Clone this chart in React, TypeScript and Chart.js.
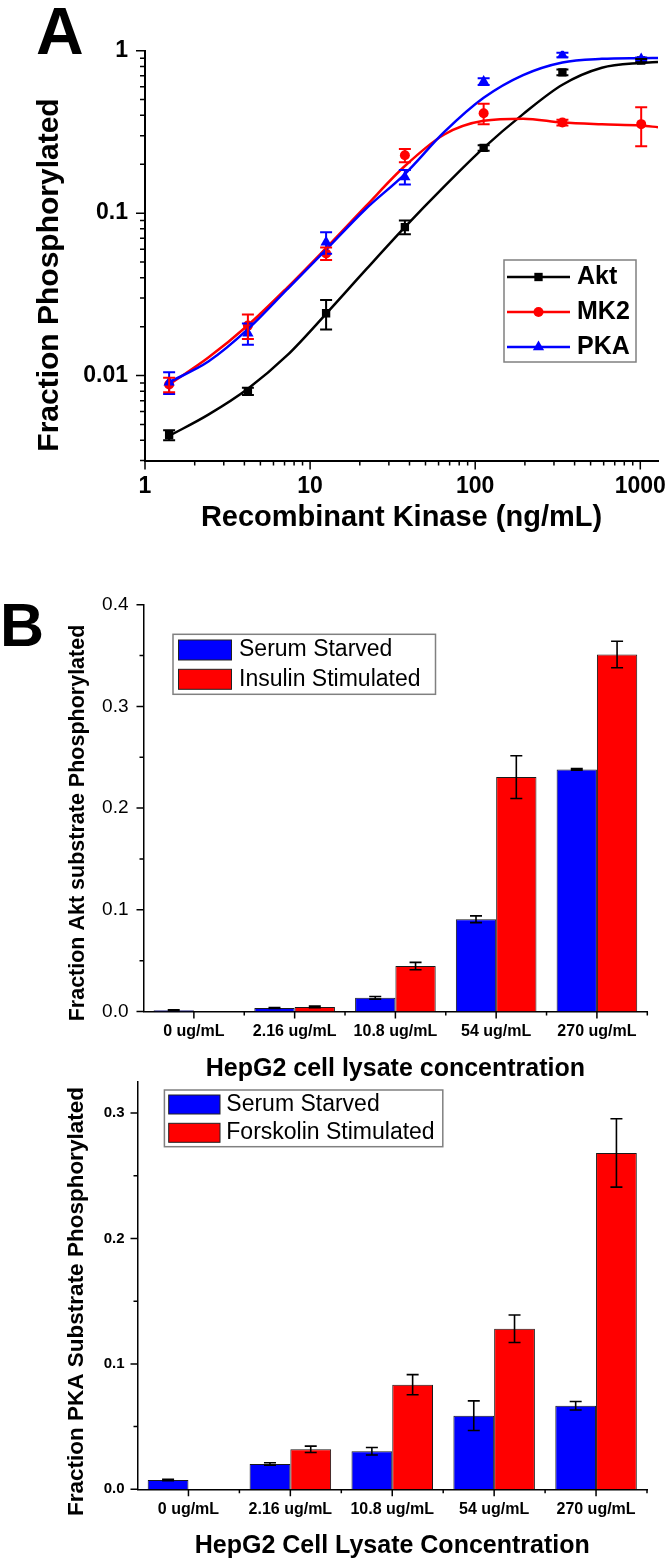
import React, { useEffect, useRef } from 'react';
import { Chart, registerables } from 'chart.js';

Chart.register(...registerables);

const FONT = '"Liberation Sans", Arial, Helvetica, sans-serif';
const BLUE = '#0000ff';
const RED = '#ff0000';
const BLACK = '#000000';

// ---------- Panel A data (log-log) ----------
const doses = [1.4, 4.2, 12.5, 37.5, 112.5, 337.5, 1012.5];
const aktPts = [0.0043, 0.008, 0.0242, 0.082, 0.252, 0.736, 0.87];
const aktErr = [0.0003, 0.0004, 0.005, 0.008, 0.01, 0.03, 0.02];
const mk2Pts = [0.0088, 0.0203, 0.0564, 0.227, 0.412, 0.361, 0.353];
const mk2Err = [0.0009, 0.0035, 0.005, 0.021, 0.06, 0.015, 0.095];
const pkaPts = [0.0091, 0.0182, 0.0662, 0.167, 0.646, 0.94, 0.889];
const pkaErr = [0.0014, 0.0027, 0.01, 0.017, 0.03, 0.03, 0.02];

// fitted curves at these concentrations
const fitX = [1.4, 2.42, 4.2, 7.25, 12.5, 21.7, 37.5, 65, 112.5, 195, 337.5, 585, 1012.5, 1280];
const aktFitY = [0.00425, 0.00575, 0.0083, 0.0133, 0.024, 0.0447, 0.082, 0.146, 0.252, 0.407, 0.617, 0.785, 0.841, 0.851];
const mk2FitY = [0.0088, 0.0129, 0.0204, 0.0347, 0.061, 0.11, 0.195, 0.305, 0.37, 0.381, 0.361, 0.352, 0.346, 0.338];
const pkaFitY = [0.0091, 0.0122, 0.0193, 0.0339, 0.0596, 0.106, 0.174, 0.316, 0.513, 0.708, 0.847, 0.891, 0.9, 0.902];

// ---------- Panel B data (bars) ----------
const lysateLabels = ['0 ug/mL', '2.16 ug/mL', '10.8 ug/mL', '54 ug/mL', '270 ug/mL'];
const aktStarved = [0.0013, 0.0035, 0.0135, 0.0907, 0.238];
const aktStarvedErr = [0.0004, 0.0005, 0.0013, 0.0033, 0.0008];
const aktInsulin = [0, 0.0045, 0.0447, 0.2305, 0.351];
const aktInsulinErr = [0, 0.0008, 0.0036, 0.021, 0.013];
const pkaStarved = [0.0074, 0.0202, 0.0303, 0.0587, 0.0666];
const pkaStarvedErr = [0.0005, 0.001, 0.003, 0.0118, 0.0034];
const pkaForskolin = [0, 0.0319, 0.0834, 0.128, 0.2682];
const pkaForskolinErr = [0, 0.0025, 0.008, 0.011, 0.0273];

const toPts = (xs: number[], ys: number[]) => xs.map((x, i) => ({ x, y: ys[i] }));
const isDecade = (v: number) => {
  const l = Math.log10(v);
  return Math.abs(l - Math.round(l)) < 1e-9;
};

function drawMarker(ctx: any, style: string, x: number, y: number, r: number, color: string) {
  ctx.save();
  ctx.fillStyle = color;
  ctx.beginPath();
  if (style === 'rect') {
    const s = r * Math.SQRT1_2;
    ctx.rect(x - s, y - s, 2 * s, 2 * s);
  } else if (style === 'circle') {
    ctx.arc(x, y, r, 0, Math.PI * 2);
  } else {
    for (let k = 0; k < 3; k++) {
      const a = (k * 2 * Math.PI) / 3;
      const px = x + Math.sin(a) * r;
      const py = y - Math.cos(a) * r;
      if (k === 0) ctx.moveTo(px, py);
      else ctx.lineTo(px, py);
    }
    ctx.closePath();
  }
  ctx.fill();
  ctx.restore();
}

function makeExtras(cfg: any) {
  return {
    id: 'extras',
    afterDatasetsDraw(chart: any) {
      const ctx = chart.ctx;
      const ys = chart.scales.y;
      const eb = cfg.errors;
      if (!eb) return;
      ctx.save();
      ctx.lineWidth = eb.width;
      Object.keys(eb.data).forEach((key) => {
        const di = Number(key);
        const errs = eb.data[key];
        const meta = chart.getDatasetMeta(di);
        const ds = chart.data.datasets[di];
        ctx.strokeStyle = eb.colors[key] || '#000';
        meta.data.forEach((el: any, j: number) => {
          const e = errs[j];
          if (!e) return;
          const raw = ds.data[j];
          const v = typeof raw === 'number' ? raw : raw.y;
          const lo = Math.max(v - e, ys.min > 0 ? ys.min * 0.5 : -1);
          const yt = ys.getPixelForValue(v + e);
          const yb = ys.getPixelForValue(lo);
          const x = el.x;
          ctx.beginPath();
          ctx.moveTo(x, yt);
          ctx.lineTo(x, yb);
          ctx.moveTo(x - eb.cap, yt);
          ctx.lineTo(x + eb.cap, yt);
          ctx.moveTo(x - eb.cap, yb);
          ctx.lineTo(x + eb.cap, yb);
          ctx.stroke();
        });
      });
      ctx.restore();
    },
    afterDraw(chart: any) {
      const ctx = chart.ctx;
      const area = chart.chartArea;
      const xs = chart.scales.x;
      const ys = chart.scales.y;
      // ---- tick marks ----
      ctx.save();
      ctx.strokeStyle = '#000';
      ctx.lineWidth = cfg.tickWidth;
      ctx.beginPath();
      const t = cfg.ticks;
      if (t.xKind === 'log') {
        xs.ticks.forEach((tk: any) => {
          const v = tk.value;
          const ex = Math.floor(Math.log10(v) + 1e-9);
          const s = v / Math.pow(10, ex);
          const r = Math.round(s);
          if (Math.abs(s - r) > 1e-6) return;
          const len = r === 1 ? t.major : t.minor;
          const px = xs.getPixelForValue(v);
          ctx.moveTo(px, area.bottom);
          ctx.lineTo(px, area.bottom + len);
        });
      } else {
        const n = chart.data.labels.length;
        const centers: number[] = [];
        for (let i = 0; i < n; i++) centers.push(xs.getPixelForValue(i));
        centers.forEach((px) => {
          ctx.moveTo(px, area.bottom);
          ctx.lineTo(px, area.bottom + t.major);
        });
        for (let i = 0; i < n - 1; i++) {
          const px = (centers[i] + centers[i + 1]) / 2;
          ctx.moveTo(px, area.bottom);
          ctx.lineTo(px, area.bottom + t.minor);
        }
        ctx.moveTo(area.right, area.bottom);
        ctx.lineTo(area.right, area.bottom + t.minor);
      }
      if (t.yKind === 'log') {
        ys.ticks.forEach((tk: any) => {
          const v = tk.value;
          const ex = Math.floor(Math.log10(v) + 1e-9);
          const s = v / Math.pow(10, ex);
          const r = Math.round(s);
          if (Math.abs(s - r) > 1e-6) return;
          const len = r === 1 ? t.major : t.minor;
          const py = ys.getPixelForValue(v);
          ctx.moveTo(area.left, py);
          ctx.lineTo(area.left - len, py);
        });
      } else {
        ys.ticks.forEach((tk: any) => {
          const v = tk.value;
          const q = v / t.yMinorStep;
          if (Math.abs(q - Math.round(q)) > 1e-6) return;
          const m = v / t.yMajorStep;
          const len = Math.abs(m - Math.round(m)) < 1e-6 ? t.major : t.minor;
          const py = ys.getPixelForValue(v);
          ctx.moveTo(area.left, py);
          ctx.lineTo(area.left - len, py);
        });
      }
      ctx.stroke();
      ctx.restore();

      // ---- legend ----
      const lg = cfg.legend;
      if (lg) {
        ctx.save();
        ctx.strokeStyle = '#808080';
        ctx.lineWidth = 1.5;
        ctx.strokeRect(lg.box[0], lg.box[1], lg.box[2], lg.box[3]);
        ctx.font = lg.font;
        ctx.fillStyle = '#000';
        ctx.textAlign = 'left';
        ctx.textBaseline = 'middle';
        lg.items.forEach((it: any) => {
          if (lg.kind === 'line') {
            ctx.strokeStyle = it.color;
            ctx.lineWidth = 2.5;
            ctx.beginPath();
            ctx.moveTo(lg.lineX[0], it.y);
            ctx.lineTo(lg.lineX[1], it.y);
            ctx.stroke();
            drawMarker(ctx, it.marker, (lg.lineX[0] + lg.lineX[1]) / 2, it.y, it.r, it.color);
          } else {
            ctx.fillStyle = it.color;
            ctx.fillRect(lg.swatch[0], it.y - lg.swatch[2] / 2, lg.swatch[1], lg.swatch[2]);
            ctx.strokeStyle = '#222';
            ctx.lineWidth = 1;
            ctx.strokeRect(lg.swatch[0], it.y - lg.swatch[2] / 2, lg.swatch[1], lg.swatch[2]);
          }
          ctx.fillStyle = '#000';
          ctx.fillText(it.text, lg.textX, it.y);
        });
        ctx.restore();
      }

      // ---- y title ----
      const yt = cfg.yTitle;
      if (yt) {
        ctx.save();
        ctx.translate(yt.x, yt.y);
        ctx.rotate(-Math.PI / 2);
        ctx.font = yt.font;
        ctx.fillStyle = '#000';
        ctx.textAlign = 'center';
        ctx.textBaseline = 'middle';
        ctx.fillText(yt.text, 0, 0);
        ctx.restore();
      }
    },
  };
}

function configA() {
  const extras = makeExtras({
    tickWidth: 1.5,
    ticks: { xKind: 'log', yKind: 'log', major: 9, minor: 5 },
    errors: {
      width: 2,
      cap: 6,
      data: { 0: pkaErr, 2: mk2Err, 4: aktErr },
      colors: { 0: BLUE, 2: RED, 4: BLACK },
    },
    legend: {
      kind: 'line',
      box: [504, 260, 132, 102],
      lineX: [507, 570],
      textX: 577,
      font: `bold 25px ${FONT}`,
      items: [
        { text: 'Akt', color: BLACK, marker: 'rect', r: 5.9, y: 277 },
        { text: 'MK2', color: RED, marker: 'circle', r: 5, y: 312 },
        { text: 'PKA', color: BLUE, marker: 'triangle', r: 6.5, y: 347 },
      ],
    },
    yTitle: { text: 'Fraction Phosphorylated', x: 50, y: 275, font: `bold 30px ${FONT}` },
  });
  const fitLine = (ys: number[], color: string, order: number) => ({
    label: 'fit',
    data: toPts(fitX, ys),
    showLine: true,
    pointRadius: 0,
    borderColor: color,
    borderWidth: 2.5,
    cubicInterpolationMode: 'monotone',
    order,
  });
  return {
    type: 'scatter',
    data: {
      datasets: [
        { label: 'PKA', data: toPts(doses, pkaPts), showLine: false, pointStyle: 'triangle', pointRadius: 6.5, pointBorderWidth: 0, backgroundColor: BLUE, borderColor: BLUE, order: 1 },
        fitLine(pkaFitY, BLUE, 2),
        { label: 'MK2', data: toPts(doses, mk2Pts), showLine: false, pointStyle: 'circle', pointRadius: 5, pointBorderWidth: 0, backgroundColor: RED, borderColor: RED, order: 3 },
        fitLine(mk2FitY, RED, 4),
        { label: 'Akt', data: toPts(doses, aktPts), showLine: false, pointStyle: 'rect', pointRadius: 5.9, pointBorderWidth: 0, backgroundColor: BLACK, borderColor: BLACK, order: 5 },
        fitLine(aktFitY, BLACK, 6),
      ],
    },
    options: {
      responsive: false,
      animation: false,
      events: [],
      layout: { padding: { left: 0, right: 8, top: 50.7, bottom: 0 } },
      plugins: { legend: { display: false }, tooltip: { enabled: false } },
      scales: {
        x: {
          type: 'logarithmic',
          position: 'bottom',
          min: 1,
          max: 1280,
          grid: { display: false, drawTicks: false },
          border: { display: true, color: '#000', width: 2 },
          ticks: {
            autoSkip: false,
            maxRotation: 0,
            padding: 12,
            color: '#000',
            font: { family: FONT, size: 23, weight: 'bold' },
            callback: (v: number) => (isDecade(v) ? String(v) : ''),
          },
          title: { display: true, text: 'Recombinant Kinase (ng/mL)', color: '#000', font: { family: FONT, size: 29, weight: 'bold' }, padding: { top: 0, bottom: 24.6 } },
          afterFit: (s: any) => {
            s.height = 99.5;
            s.paddingLeft = 0;
            s.paddingRight = 0;
          },
        },
        y: {
          type: 'logarithmic',
          position: 'left',
          min: 0.003,
          max: 1,
          grid: { display: false, drawTicks: false },
          border: { display: true, color: '#000', width: 2 },
          ticks: {
            autoSkip: false,
            padding: 17,
            color: '#000',
            font: { family: FONT, size: 23, weight: 'bold' },
            callback: (v: number) => (isDecade(v) ? String(v) : ''),
          },
          afterFit: (s: any) => {
            s.width = 145;
            s.paddingTop = 0;
            s.paddingBottom = 0;
          },
        },
      },
    },
    plugins: [extras],
  };
}

function barConfig(opts: any) {
  const extras = makeExtras({
    tickWidth: 1.5,
    ticks: { xKind: 'cat', yKind: 'lin', major: 7, minor: 4, yMinorStep: 0.05, yMajorStep: 0.1 },
    errors: {
      width: 1.6,
      cap: 6,
      data: { 0: opts.errA, 1: opts.errB },
      colors: { 0: '#000', 1: '#000' },
    },
    legend: opts.legend,
    yTitle: opts.yTitle,
  });
  return {
    type: 'bar',
    data: {
      labels: lysateLabels,
      datasets: [
        { label: opts.nameA, data: opts.valA, backgroundColor: BLUE, borderColor: '#1a1a1a', borderWidth: 1, borderSkipped: 'start' },
        { label: opts.nameB, data: opts.valB, backgroundColor: RED, borderColor: '#1a1a1a', borderWidth: 1, borderSkipped: 'start' },
      ],
    },
    options: {
      responsive: false,
      animation: false,
      events: [],
      layout: { padding: { left: 0, right: opts.padRight, top: opts.padTop, bottom: 0 } },
      plugins: { legend: { display: false }, tooltip: { enabled: false } },
      datasets: { bar: { categoryPercentage: 0.8, barPercentage: 1.0 } },
      scales: {
        x: {
          grid: { display: false, drawTicks: false },
          border: { display: true, color: '#000', width: 1.5 },
          ticks: { autoSkip: false, maxRotation: 0, padding: opts.xLabelPad, color: '#000', font: { family: FONT, size: 16, weight: 'bold' } },
          title: { display: true, text: opts.xTitle, color: '#000', font: { family: FONT, size: 25, weight: 'bold' }, padding: { top: 0, bottom: opts.xTitlePad } },
          afterFit: (s: any) => {
            s.height = opts.xHeight;
            s.paddingLeft = 0;
            s.paddingRight = 0;
          },
        },
        y: {
          min: 0,
          max: opts.yMax,
          grid: { display: false, drawTicks: false },
          border: { display: true, color: '#000', width: 1.5 },
          ticks: {
            autoSkip: false,
            stepSize: 0.05,
            padding: opts.yLabelPad,
            color: '#000',
            font: opts.yFont,
            callback: (v: number) => {
              const m = v / 0.1;
              return Math.abs(m - Math.round(m)) < 1e-6 ? v.toFixed(1) : '';
            },
          },
          afterFit: (s: any) => {
            s.width = opts.yWidth;
            s.paddingTop = 0;
            s.paddingBottom = 0;
          },
        },
      },
    },
    plugins: [extras],
  };
}

function configB1() {
  return barConfig({
    nameA: 'Serum Starved',
    nameB: 'Insulin Stimulated',
    valA: aktStarved,
    valB: aktInsulin,
    errA: aktStarvedErr,
    errB: aktInsulinErr,
    yMax: 0.4,
    padTop: 44.7,
    padRight: 18.7,
    yWidth: 143.5,
    xHeight: 78.5,
    xLabelPad: 10.6,
    xTitlePad: 5.4,
    yLabelPad: 15,
    yFont: { family: FONT, size: 19, weight: 'normal' },
    xTitle: 'HepG2 cell lysate concentration',
    legend: {
      kind: 'swatch',
      box: [173, 74.3, 262.5, 60],
      swatch: [178.5, 53, 20],
      textX: 239,
      font: `23px ${FONT}`,
      items: [
        { text: 'Serum Starved', color: BLUE, y: 90 },
        { text: 'Insulin Stimulated', color: RED, y: 119.3 },
      ],
    },
    yTitle: { text: 'Fraction Akt substrate Phosphorylated', x: 78, y: 263, font: `bold 21.5px ${FONT}` },
  });
}

function configB2() {
  return barConfig({
    nameA: 'Serum Starved',
    nameB: 'Forskolin Stimulated',
    valA: pkaStarved,
    valB: pkaForskolin,
    errA: pkaStarvedErr,
    errB: pkaForskolinErr,
    yMax: 0.325,
    padTop: 21.7,
    padRight: 19,
    yWidth: 137.5,
    xHeight: 73.7,
    xLabelPad: 11.1,
    xTitlePad: 1.7,
    yLabelPad: 13,
    yFont: { family: FONT, size: 15, weight: 'bold' },
    xTitle: 'HepG2 Cell Lysate Concentration',
    legend: {
      kind: 'swatch',
      box: [164.4, 30, 278.4, 56.7],
      swatch: [168.7, 51.3, 19],
      textX: 226.3,
      font: `23px ${FONT}`,
      items: [
        { text: 'Serum Starved', color: BLUE, y: 44.5 },
        { text: 'Forskolin Stimulated', color: RED, y: 72.8 },
      ],
    },
    yTitle: { text: 'Fraction PKA Substrate Phosphorylated', x: 76.4, y: 241.5, font: `bold 22.5px ${FONT}` },
  });
}

function ChartCanvas({ make, top, height }: { make: () => any; top: number; height: number }) {
  const ref = useRef<HTMLCanvasElement | null>(null);
  useEffect(() => {
    const chart = new Chart(ref.current as HTMLCanvasElement, make() as any);
    return () => chart.destroy();
  }, []);
  return (
    <canvas
      ref={ref}
      width={666}
      height={height}
      style={{ position: 'absolute', left: 0, top, width: 666, height, display: 'block' }}
    />
  );
}

export default function App() {
  return (
    <div style={{ position: 'absolute', left: 0, top: 0, width: 666, height: 1563, background: '#fff', overflow: 'hidden' }}>
      <ChartCanvas make={configA} top={0} height={560} />
      <ChartCanvas make={configB1} top={560} height={530} />
      <ChartCanvas make={configB2} top={1060} height={503} />
      <div style={{ position: 'absolute', left: 36, top: -2, fontFamily: FONT, fontWeight: 'bold', fontSize: 66, lineHeight: '66px', color: '#000' }}>A</div>
      <div style={{ position: 'absolute', left: 0, top: 595, fontFamily: FONT, fontWeight: 'bold', fontSize: 61, lineHeight: '61px', color: '#000' }}>B</div>
    </div>
  );
}
